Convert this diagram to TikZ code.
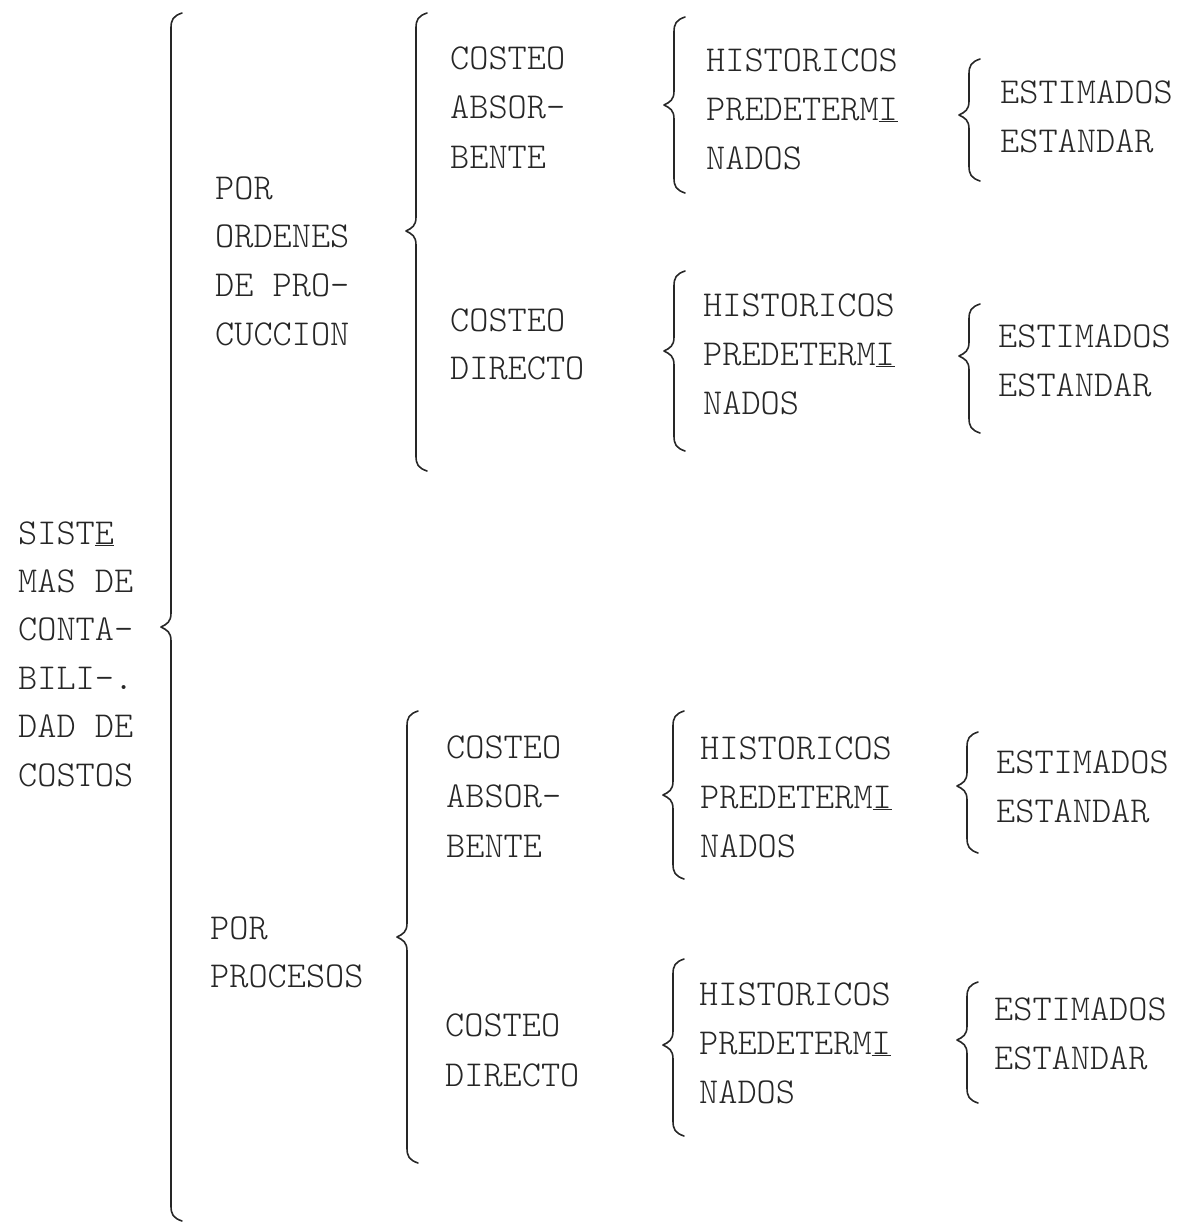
\documentclass[tikz,border=0pt]{standalone}
\usepackage{fontspec}
\setmonofont{Latin Modern Mono Light}
\begin{document}
\begin{tikzpicture}[x=1pt,y=-1pt,
  lbl/.style={font=\fontsize{36.5}{44}\selectfont\ttfamily, text=black!85, anchor=base west, inner sep=0pt},
  brc/.style={draw=black!85, line width=1.6pt, line cap=round, line join=round}]
\useasboundingbox (0,0) rectangle (1177,1224);
% brace macro: #1 x, #2 top, #3 tip, #4 bottom
\def\bracedraw#1#2#3#4{%
  \draw[brc] ({#1+11},{#2-3}) .. controls ({#1+2},{#2}) and ({#1},{#2+4}) .. ({#1},{#2+12})
    -- ({#1},{#3-14}) .. controls ({#1},{#3-5}) and ({#1-4},{#3-3}) .. ({#1-10},{#3})
    .. controls ({#1-4},{#3+3}) and ({#1},{#3+5}) .. ({#1},{#3+14})
    -- ({#1},{#4-12}) .. controls ({#1},{#4-4}) and ({#1+2},{#4}) .. ({#1+11},{#4+3});}
% text groups
\foreach \t [count=\i] in {SIST\underline{E}, MAS DE, CONTA-, BILI-., DAD DE, COSTOS}
  \node[lbl] (s\i) at (18,{544+(\i-1)*48.4}) {\t};
\foreach \t [count=\i] in {POR, ORDENES, DE PRO-, CUCCION}
  \node[lbl] (o\i) at (215,{199+(\i-1)*48.7}) {\t};
\foreach \t [count=\i] in {POR, PROCESOS}
  \node[lbl] (p\i) at (210,{939+(\i-1)*48}) {\t};
\foreach \t [count=\i] in {COSTEO, ABSOR-, BENTE}
  \node[lbl] (ca\i) at (450,{69+(\i-1)*49.5}) {\t};
\foreach \t [count=\i] in {COSTEO, DIRECTO}
  \node[lbl] (cd\i) at (450,{331+(\i-1)*48}) {\t};
\foreach \t [count=\i] in {COSTEO, ABSOR-, BENTE}
  \node[lbl] (pa\i) at (446,{758+(\i-1)*49.5}) {\t};
\foreach \t [count=\i] in {COSTEO, DIRECTO}
  \node[lbl] (pd\i) at (445,{1036+(\i-1)*50}) {\t};
\foreach \nm/\xx/\yy in {ha/706/71, hb/703/316, hc/700/759, hd/699/1005}
  \foreach \t [count=\i] in {HISTORICOS, PREDETERM\underline{I}, NADOS}
    \node[lbl] (\nm\i) at (\xx,{\yy+(\i-1)*49}) {\t};
\foreach \nm/\xx/\yy in {ea/1000/103, eb/998/347, ec/996/773, ed/994/1020}
  \foreach \t [count=\i] in {ESTIMADOS, ESTANDAR}
    \node[lbl] (\nm\i) at (\xx,{\yy+(\i-1)*49}) {\t};
% braces
\bracedraw{171}{16}{627}{1218}
\bracedraw{416}{16}{231}{468}
\bracedraw{407}{714}{937}{1160}
\bracedraw{674}{20}{105}{190}
\bracedraw{674}{274}{351}{448}
\bracedraw{673}{714}{795}{876}
\bracedraw{673}{962}{1045}{1133}
\bracedraw{969}{62}{115}{178}
\bracedraw{969}{307}{356}{430}
\bracedraw{967}{735}{786}{850}
\bracedraw{967}{985}{1040}{1100}
\end{tikzpicture}
\end{document}
